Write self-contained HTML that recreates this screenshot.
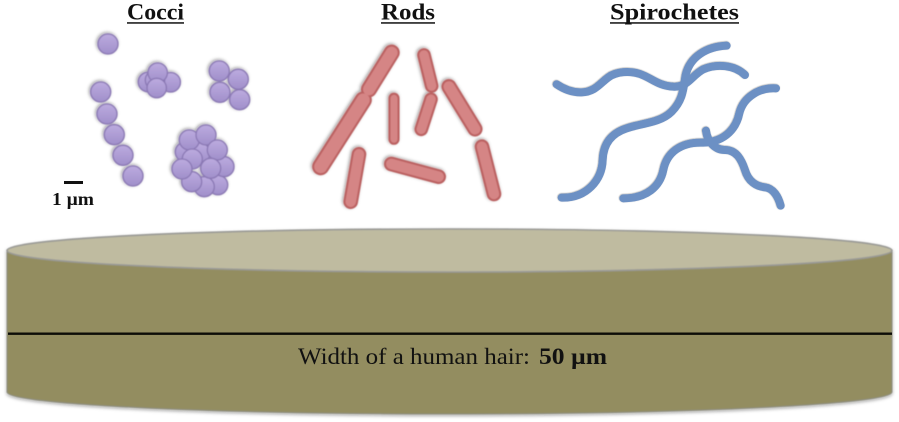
<!DOCTYPE html>
<html><head><meta charset="utf-8"><style>
html,body{margin:0;padding:0;background:#fff;width:899px;height:422px;overflow:hidden}
svg{display:block}
text{font-family:"Liberation Serif",serif;fill:#111}
</style></head><body>
<svg width="899" height="422" viewBox="0 0 899 422" xmlns="http://www.w3.org/2000/svg">
<defs>
<filter id="s" x="-30%" y="-30%" width="160%" height="160%"><feGaussianBlur stdDeviation="0.4" result="b"/><feDropShadow in="b" dx="-1" dy="-1" stdDeviation="1.5" flood-color="#000" flood-opacity=".42"/></filter>
<filter id="d" x="-3%" y="-10%" width="106%" height="120%"><feGaussianBlur stdDeviation="0.4" result="b"/><feDropShadow in="b" dx="0" dy="1.5" stdDeviation="1.5" flood-color="#000" flood-opacity=".35"/></filter>
<linearGradient id="p" x1="0" y1="0" x2="0" y2="1"><stop offset="0" stop-color="#bcabdf"/><stop offset="1" stop-color="#a08fca"/></linearGradient>
</defs>

<g font-weight="bold" font-size="23">
<text x="127" y="19.5" textLength="57" lengthAdjust="spacingAndGlyphs">Cocci</text>
<text x="381" y="19.5" textLength="54" lengthAdjust="spacingAndGlyphs">Rods</text>
<text x="610" y="19.5" textLength="129" lengthAdjust="spacingAndGlyphs">Spirochetes</text>
</g>
<rect x="127" y="22.2" width="57" height="1.5" fill="#111"/>
<rect x="381" y="22.2" width="54" height="1.5" fill="#111"/>
<rect x="610" y="22.2" width="129" height="1.5" fill="#111"/>

<g fill="url(#p)" stroke="#8a78b4" stroke-width="1.3" filter="url(#s)">
<circle cx="108" cy="44" r="10"/>
<circle cx="100.7" cy="92" r="10"/><circle cx="107" cy="114" r="10"/><circle cx="114.3" cy="134.7" r="10"/><circle cx="123" cy="155.3" r="10"/><circle cx="133" cy="176" r="10"/>
<circle cx="148" cy="82" r="9.7"/><circle cx="170.7" cy="82.3" r="9.7"/><circle cx="155" cy="80" r="9.7"/><circle cx="157.7" cy="72.7" r="9.7"/><circle cx="156.7" cy="88" r="9.7"/>
<circle cx="219.3" cy="71" r="10"/><circle cx="238.3" cy="79.3" r="10"/><circle cx="220" cy="92.3" r="10"/><circle cx="239.7" cy="99.7" r="10"/>
<circle cx="185" cy="152" r="9.7"/><circle cx="218" cy="185" r="9.7"/><circle cx="224" cy="166.7" r="10"/><circle cx="204.3" cy="186.7" r="10"/><circle cx="191.7" cy="181.7" r="10"/><circle cx="200" cy="153" r="10"/><circle cx="189.3" cy="140" r="10"/><circle cx="206" cy="135" r="10"/><circle cx="217.3" cy="150" r="10"/><circle cx="192.3" cy="159" r="10"/><circle cx="182" cy="169" r="10"/><circle cx="210.7" cy="168.3" r="10"/>
</g>

<rect x="64" y="181" width="19" height="3" fill="#111"/>
<text x="52" y="205" font-weight="bold" font-size="17.5" textLength="42" lengthAdjust="spacingAndGlyphs">1 µm</text>

<g filter="url(#s)" stroke-linecap="round" fill="none">
<g stroke="#bb6060">
<line x1="391.7" y1="52.7" x2="369" y2="89.3" stroke-width="16"/>
<line x1="363.3" y1="100" x2="320.7" y2="166.7" stroke-width="17"/>
<line x1="424" y1="55" x2="431.7" y2="86" stroke-width="13.5"/>
<line x1="431" y1="99.3" x2="421.3" y2="129.3" stroke-width="13.5"/>
<line x1="394" y1="98.3" x2="394" y2="139.3" stroke-width="11"/>
<line x1="449" y1="86.7" x2="475" y2="129" stroke-width="15"/>
<line x1="359" y1="154.3" x2="350.7" y2="201.7" stroke-width="14.5"/>
<line x1="391.3" y1="164" x2="438.7" y2="176.7" stroke-width="14.5"/>
<line x1="482" y1="146.7" x2="494" y2="194" stroke-width="14.5"/>
</g>
<g stroke="#d58585">
<line x1="391.7" y1="52.7" x2="369" y2="89.3" stroke-width="12"/>
<line x1="363.3" y1="100" x2="320.7" y2="166.7" stroke-width="13"/>
<line x1="424" y1="55" x2="431.7" y2="86" stroke-width="9.5"/>
<line x1="431" y1="99.3" x2="421.3" y2="129.3" stroke-width="9.5"/>
<line x1="394" y1="98.3" x2="394" y2="139.3" stroke-width="7"/>
<line x1="449" y1="86.7" x2="475" y2="129" stroke-width="11"/>
<line x1="359" y1="154.3" x2="350.7" y2="201.7" stroke-width="10.5"/>
<line x1="391.3" y1="164" x2="438.7" y2="176.7" stroke-width="10.5"/>
<line x1="482" y1="146.7" x2="494" y2="194" stroke-width="10.5"/>
</g>
</g>

<g transform="translate(540 0) scale(.33333)" fill="none" stroke="#6c90c4" stroke-width="24" stroke-linecap="round" filter="url(#s)">
<path d="M560 137 C500 140 450 170 437 225 C430 265 430 300 395 335 C360 370 300 370 260 385 C215 400 190 430 188 480 C186 540 140 595 65 593"/>
<path d="M50 253 C75 270 100 278 125 277 C165 276 180 250 205 232 C230 214 270 212 300 222 C335 234 355 258 400 260 C445 262 455 226 490 208 C530 190 585 195 615 225"/>
<path d="M708 265 C660 262 610 290 598 340 C590 380 560 425 490 428 C420 425 380 460 370 510 C360 560 320 595 250 595"/>
<path d="M498 392 C502 425 525 450 555 450 C590 450 605 480 615 510 C625 545 650 560 675 562 C700 565 715 590 722 617"/>
</g>

<g filter="url(#d)">
<path d="M7 250 V392 C7 404 205 414 449.5 414 C694 414 892 404 892 392 V250 Z" fill="#938d60" stroke="#8d8d80" stroke-width="1"/>
<ellipse cx="449.5" cy="250.5" rx="442.5" ry="21.5" fill="#bfbba0" stroke="#9a9a96" stroke-width="1.6"/>
</g>
<rect x="8" y="332.5" width="884" height="2.4" fill="#0d0d08"/>
<text x="298" y="364" font-size="23.5" fill="#1a1a12" textLength="232" lengthAdjust="spacingAndGlyphs">Width of a human hair:</text>
<text x="539" y="364" font-size="23.5" font-weight="bold" fill="#111" textLength="68" lengthAdjust="spacingAndGlyphs">50 µm</text>
</svg>
</body></html>
